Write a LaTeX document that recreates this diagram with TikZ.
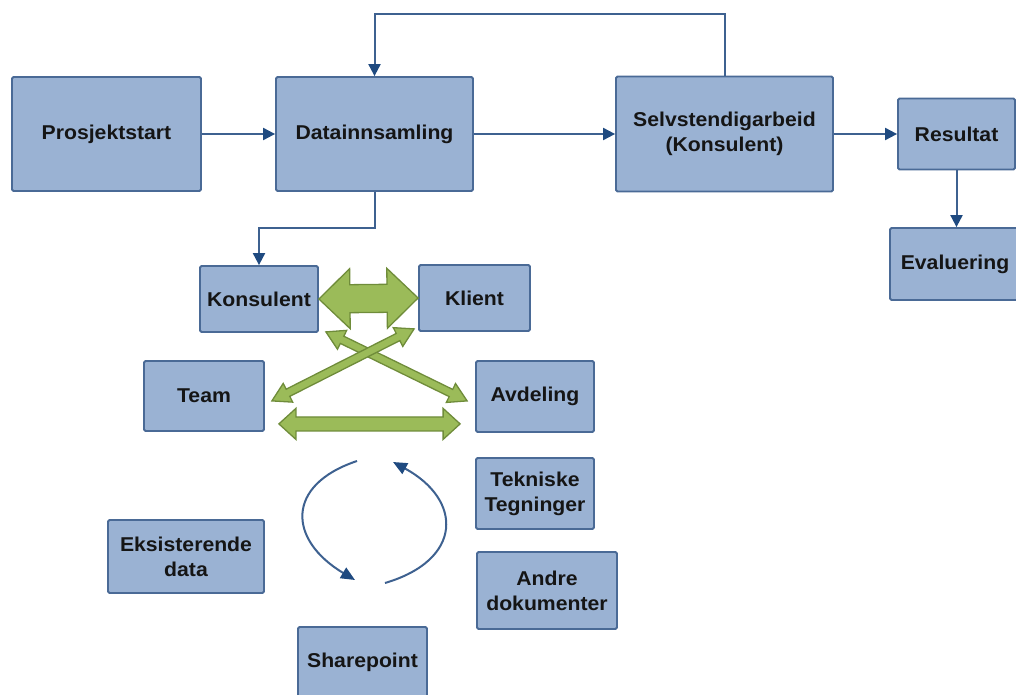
\documentclass[tikz,border=0pt]{standalone}
\usepackage{fontspec}
\setmainfont{Liberation Sans}[FakeStretch=1.06]
\usetikzlibrary{arrows.meta,calc}

\definecolor{boxfill}{HTML}{9AB2D3}
\definecolor{boxline}{HTML}{4A6A96}
\definecolor{conline}{HTML}{3E6190}
\definecolor{tipcol}{HTML}{1F4A80}
\definecolor{greenfill}{HTML}{9BBB59}
\definecolor{greenline}{HTML}{6F8C3A}
\definecolor{txt}{HTML}{151515}

% wide two-headed arrow between two named points:
% #1 start, #2 end, #3 half shaft width, #4 half head width, #5 head length
\newcommand\fatarrow[5]{%
  \filldraw[fatarrowstyle] (#1)
   -- ($(#1)!#5!(#2)!#4!90:(#2)$)
   -- ($(#1)!#5!(#2)!#3!90:(#2)$)
   -- ($(#2)!#5!(#1)!#3!-90:(#1)$)
   -- ($(#2)!#5!(#1)!#4!-90:(#1)$)
   -- (#2)
   -- ($(#2)!#5!(#1)!#4!90:(#1)$)
   -- ($(#2)!#5!(#1)!#3!90:(#1)$)
   -- ($(#1)!#5!(#2)!#3!-90:(#2)$)
   -- ($(#1)!#5!(#2)!#4!-90:(#2)$)
   -- cycle;}

\tikzset{
  box/.style={draw=boxline, fill=boxfill, line width=1.8pt, rounded corners=1.5pt,
    inner sep=0pt, align=center, text=txt,
    font=\fontsize{20}{25}\selectfont\bfseries},
  conn/.style={draw=conline, line width=2pt,
    -{Triangle[length=12pt,width=12pt,fill=tipcol,color=tipcol]}},
  cycarrow/.style={draw=conline, line width=2pt,
    -{Triangle[length=14pt,width=12pt,fill=tipcol,color=tipcol]}},
  fatarrowstyle/.style={fill=greenfill, draw=greenline, line width=1.3pt, line join=miter},
}

\begin{document}
\begin{tikzpicture}[x=1pt, y=-1pt]
\useasboundingbox (0,0) rectangle (1016,695);
\clip (0,0) rectangle (1016,695);

% main process row
\node[box, minimum width=189pt, minimum height=114pt] (pro)   at (106.5,134) {Prosjektstart};
\node[box, minimum width=197pt, minimum height=114pt] (data)  at (374.5,134) {Datainnsamling};
\node[box, minimum width=217pt, minimum height=115pt] (selv)  at (724.5,134) {Selvstendigarbeid\\(Konsulent)};
\node[box, minimum width=117pt, minimum height=71pt]  (res)   at (956.5,134) {Resultat};
\node[box, minimum width=130pt, minimum height=72pt]  (eval)  at (955,264) {Evaluering};

% data collection participants
\node[box, minimum width=118pt, minimum height=66pt]  (kons)  at (259,299) {Konsulent};
\node[box, minimum width=111pt, minimum height=66pt]  (klient) at (474.5,298) {Klient};
\node[box, minimum width=120pt, minimum height=70pt]  (team)  at (204,396) {Team};
\node[box, minimum width=118pt, minimum height=71pt]  (avd)   at (535,396.5) {Avdeling};

% data sources
\node[box, minimum width=118pt, minimum height=71pt]  (tek)   at (535,493.5) {Tekniske\\Tegninger};
\node[box, minimum width=140pt, minimum height=77pt]  (andre) at (547,590.5) {Andre\\dokumenter};
\node[box, minimum width=156pt, minimum height=73pt]  (eks)   at (186,556.5) {Eksisterende\\data};
\node[box, minimum width=129pt, minimum height=70pt]  (share) at (362.5,662) {Sharepoint};

% process connectors
\draw[conn] (pro) -- (data);
\draw[conn] (data) -- (selv);
\draw[conn] (selv) -- (res);
\draw[conn] (res.south) -- (res.south |- eval.north);
\draw[conn] (selv.north) -- ++(0,-62) -| (data.north);
\draw[conn] (data.south) -- ++(0,36) -| (kons.north);

% communication arrows
\coordinate (ka) at (kons.east);
\coordinate (kb) at (klient.west);
\fatarrow{ka}{kb}{14pt}{30pt}{31pt}

\coordinate (xa1) at ($(kons.south east)+(7,-1)$);
\coordinate (xa2) at ($(avd.south west)+(-8,-32)$);
\fatarrow{xa1}{xa2}{4pt}{10.5pt}{18pt}

\coordinate (xb1) at ($(team.south east)+(7,-31)$);
\coordinate (xb2) at ($(klient.south west)+(-4,-3)$);
\fatarrow{xb1}{xb2}{4pt}{10.5pt}{18pt}

\coordinate (ta) at ($(team.south east)+(14,-8)$);
\coordinate (tb) at ($(avd.south west)+(-15,-9)$);
\fatarrow{ta}{tb}{7pt}{15.5pt}{17pt}

% circulation between the sources
\coordinate (cl1) at (357,461);
\coordinate (cl2) at (355,580);
\coordinate (cr1) at (385,583);
\coordinate (cr2) at (393,462);
\draw[cycarrow] (cl1) .. controls (285,485) and (288,540) .. (cl2);
\draw[cycarrow] (cr1) .. controls (463,560) and (463,500) .. (cr2);
\end{tikzpicture}
\end{document}
